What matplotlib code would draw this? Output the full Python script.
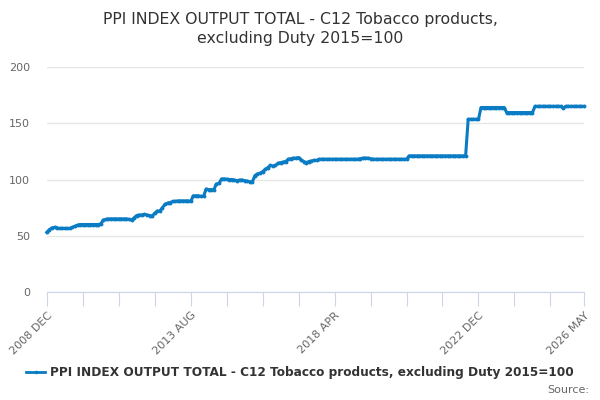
import numpy as np
import pandas as pd
import matplotlib
matplotlib.use("Agg")
import matplotlib.pyplot as plt
from matplotlib.lines import Line2D

# データ (月次, 2008 DEC - 2026 MAY)
start_month = "2008-12"
series_name = "PPI INDEX OUTPUT TOTAL - C12 Tobacco products, excluding Duty 2015=100"
values = [
    53, 55.5, 57, 57.5, 57, 56.5, 56.5, 56.5, 56.5, 56.5,
    57.5, 58.5, 59.5, 60, 60, 60, 60, 60, 60, 60,
    60, 60.5, 64, 64.5, 65, 65, 65, 65, 65, 65,
    65, 65, 64.5, 64, 66, 68, 68.5, 68.5, 69, 68.5,
    68, 67.5, 70, 72, 72, 75, 78, 79, 79.5, 80.5,
    80.5, 81, 81, 81, 81, 81, 80.5, 85.5, 85.5, 85.5,
    85, 85, 91.5, 91, 91, 91, 96, 96.5, 100.5, 100.5,
    100.3, 100, 100, 99.5, 99, 99.5, 99.5, 99, 98.5, 98,
    98, 103.5, 105, 105.5, 107, 109, 110.5, 112.5, 112, 112.5,
    114.5, 115, 115.5, 116, 118, 118.5, 119, 119, 119.5, 117.5,
    116, 115, 116, 116.5, 117, 117, 118, 118, 118, 118,
    118, 118, 118, 118, 118, 118, 118, 118, 118, 118,
    118, 118, 118.5, 119, 119, 119, 118.5, 118, 118, 118,
    118, 118, 118, 118, 118, 118, 118, 118, 118, 118,
    118, 121, 121, 121, 121, 121, 121, 121, 121, 121,
    121, 121, 121, 121, 121, 121, 121, 121, 121, 121,
    121, 121, 121, 121, 153.5, 153.5, 153.5, 153.5, 153.5, 164,
    164, 164, 164, 164, 164, 164, 164, 164, 164, 159.5,
    159.5, 159.5, 159.5, 159.5, 159.5, 159.5, 159.5, 159.5, 159.5, 159.5,
    165, 165, 165, 165, 165, 165, 165, 165, 165, 165,
    165, 163.5, 165, 165, 165, 165, 165, 165, 165, 165,
]
y_ticks = [0, 50, 100, 150, 200]
tick_step = 14          # 目盛り間隔 (月)
label_every = 4         # ラベルを付ける目盛り

months = pd.period_range(start_month, periods=len(values), freq="M")
month_labels = [f"{p.year} {p.strftime('%b').upper()}" for p in months]
x = np.arange(len(values))

line_color = "#0a7cc4"
grid_color = "#e6e6e6"
axis_color = "#ccd6eb"
text_gray = "#666666"
text_dark = "#333333"

plt.rcParams["font.family"] = ["DejaVu Sans"]

fig = plt.figure(figsize=(6, 4), dpi=100)
ax = fig.add_axes([0.078, 0.27, 0.895, 0.5625])

ax.plot(x, values, color=line_color, lw=2.2, marker="o", ms=2.8,
        markeredgewidth=0, clip_on=False, zorder=3)

# 軸の設定
ax.set_xlim(0, len(values) - 1)
ax.set_ylim(0, 200)
ax.set_yticks(y_ticks)
ax.yaxis.grid(True, color=grid_color, lw=1)
ax.set_axisbelow(True)

tick_pos = list(range(0, len(values), tick_step))
if tick_pos[-1] != len(values) - 1:
    tick_pos.append(len(values) - 1)
tick_lab = []
for k, p in enumerate(tick_pos):
    if k % label_every == 0 or p == len(values) - 1:
        tick_lab.append(month_labels[p])
    else:
        tick_lab.append("")
ax.set_xticks(tick_pos)
ax.set_xticklabels(tick_lab, rotation=45, ha="right", rotation_mode="anchor")

for s in ["top", "right", "left"]:
    ax.spines[s].set_visible(False)
ax.spines["bottom"].set_color(axis_color)
ax.tick_params(axis="x", length=10, color=axis_color, labelsize=8,
               labelcolor=text_gray, pad=3)
ax.tick_params(axis="y", length=0, labelsize=8, labelcolor=text_gray, pad=12)

fig.suptitle("PPI INDEX OUTPUT TOTAL - C12 Tobacco products,\nexcluding Duty 2015=100",
             x=0.5, y=0.97, fontsize=11.3, color=text_dark, linespacing=1.3)

handle = Line2D([], [], color=line_color, lw=2, marker="o", ms=2.6, markeredgewidth=0)
fig.legend([handle], [series_name], loc="center", bbox_to_anchor=(0.5, 0.068),
           frameon=False, handlelength=1.6, handletextpad=0.4,
           prop={"weight": "bold", "size": 8.7}, labelcolor=text_dark)
fig.text(0.982, 0.025, "Source:", ha="right", va="center", fontsize=8, color=text_gray)

fig.savefig("out.png", dpi=100)
